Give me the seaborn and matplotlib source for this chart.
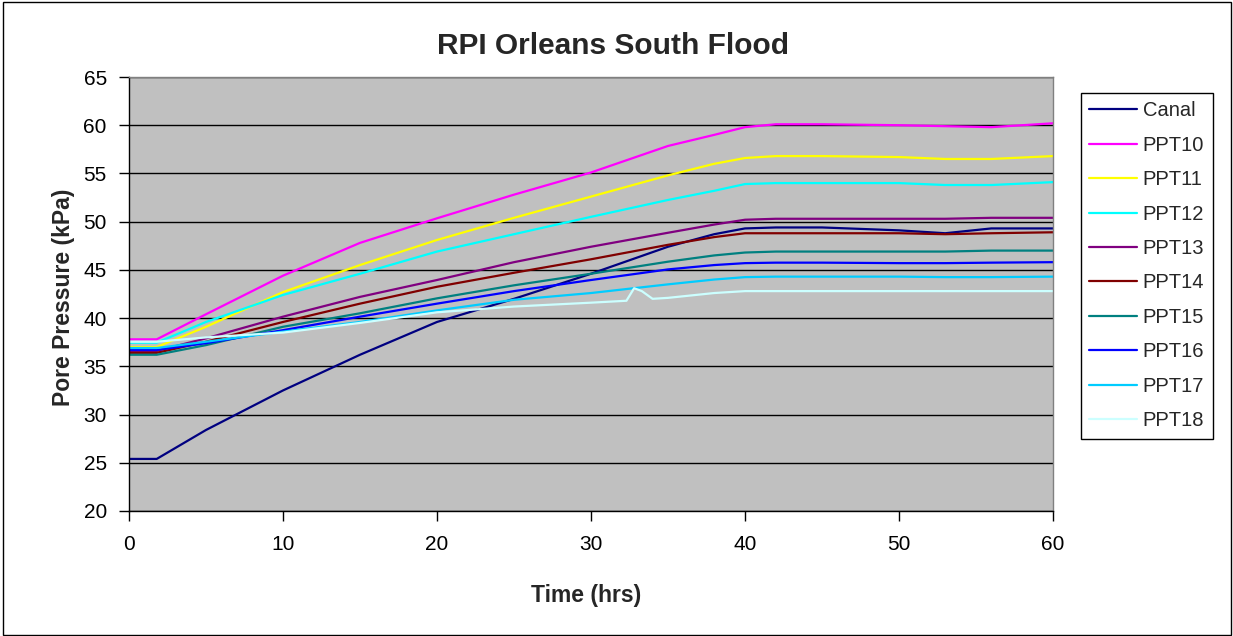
import pandas as pd
import seaborn as sns
import matplotlib.pyplot as plt
from matplotlib.patches import Rectangle

# ==================================================
# data (time in hrs, pressure in kPa)
# ==================================================

t_common = [0, 1.8, 5, 10, 15, 20, 25, 30, 35, 38, 40, 42, 45, 50, 53, 56, 60]

canal = [25.4, 25.4, 28.4, 32.5, 36.2, 39.6, 42.0, 44.6, 47.4, 48.7, 49.3, 49.4, 49.4, 49.1, 48.8, 49.3, 49.3]
ppt10 = [37.8, 37.8, 40.4, 44.4, 47.8, 50.35, 52.8, 55.1, 57.85, 59.0, 59.8, 60.1, 60.1, 60.0, 59.9, 59.8, 60.2]
ppt11 = [37.0, 37.0, 39.1, 42.7, 45.5, 48.1, 50.4, 52.6, 54.8, 56.0, 56.6, 56.8, 56.8, 56.7, 56.5, 56.5, 56.8]
ppt12 = [37.45, 37.45, 39.6, 42.4, 44.6, 46.9, 48.7, 50.5, 52.25, 53.2, 53.9, 54.0, 54.0, 54.0, 53.8, 53.8, 54.1]
ppt13 = [36.6, 36.6, 37.9, 40.15, 42.2, 43.95, 45.8, 47.4, 48.85, 49.7, 50.2, 50.3, 50.3, 50.3, 50.3, 50.4, 50.4]
ppt14 = [36.4, 36.4, 37.55, 39.6, 41.5, 43.25, 44.7, 46.1, 47.6, 48.4, 48.8, 48.8, 48.8, 48.8, 48.7, 48.8, 48.9]
ppt15 = [36.2, 36.2, 37.2, 39.1, 40.5, 42.05, 43.4, 44.6, 45.85, 46.5, 46.8, 46.9, 46.9, 46.9, 46.9, 47.0, 47.0]
ppt16 = [36.7, 36.7, 37.4, 38.75, 40.15, 41.5, 42.8, 43.95, 45.05, 45.5, 45.7, 45.75, 45.75, 45.7, 45.7, 45.75, 45.8]
ppt17 = [36.9, 36.9, 37.55, 38.6, 39.6, 40.8, 41.9, 42.6, 43.5, 44.0, 44.25, 44.3, 44.3, 44.3, 44.25, 44.25, 44.3]

t_ppt18 = [0, 1.8, 5, 10, 15, 20, 25, 30, 32.3, 32.8, 33.3, 34.0, 35, 38, 40, 45, 50, 55, 60]
ppt18 = [37.55, 37.55, 38.0, 38.5, 39.5, 40.6, 41.2, 41.6, 41.8, 43.1, 42.8, 42.0, 42.1, 42.6, 42.8, 42.8, 42.8, 42.8, 42.8]

series_names = ["Canal", "PPT10", "PPT11", "PPT12", "PPT13", "PPT14", "PPT15", "PPT16", "PPT17", "PPT18"]
series_values = [canal, ppt10, ppt11, ppt12, ppt13, ppt14, ppt15, ppt16, ppt17, ppt18]
series_times = [t_common] * 9 + [t_ppt18]

colors = ["#000080", "#FF00FF", "#FFFF00", "#00FFFF", "#800080",
          "#800000", "#008080", "#0000FF", "#00CCFF", "#CCFFFF"]

rows = []
for name, tt, vv in zip(series_names, series_times, series_values):
    for t, v in zip(tt, vv):
        rows.append({"time": t, "pressure": v, "series": name})
df = pd.DataFrame(rows)

# ==================================================
# style
# ==================================================

sns.set_theme(style="ticks")
plt.rcParams["font.family"] = ["Liberation Sans", "DejaVu Sans"]

fig = plt.figure(figsize=(12.33, 6.36), dpi=100)
ax = fig.add_axes([129 / 1233, 125 / 636, 924 / 1233, 434 / 636])
ax.set_facecolor("#C0C0C0")

sns.lineplot(
    data=df, x="time", y="pressure", hue="series",
    hue_order=series_names, palette=dict(zip(series_names, colors)),
    estimator=None, sort=False, linewidth=1.6, ax=ax
)

ax.set_xlim(0, 60)
ax.set_ylim(20, 65)
ax.set_xticks(range(0, 61, 10))
ax.set_yticks(range(20, 66, 5))
ax.yaxis.grid(True, color="black", linewidth=1)
ax.set_axisbelow(True)

for side in ["top", "right"]:
    ax.spines[side].set_visible(True)
    ax.spines[side].set_color("#808080")
for side in ["left", "bottom"]:
    ax.spines[side].set_color("black")
for sp in ax.spines.values():
    sp.set_linewidth(1)

ax.tick_params(axis="both", direction="out", length=7, width=1, color="black",
               labelsize=15, labelcolor="black")
ax.tick_params(axis="x", pad=10)
ax.tick_params(axis="y", pad=9)

ax.set_title("RPI Orleans South Flood", fontsize=21.5, fontweight="bold",
             x=0.524, y=1.071, va="center", pad=0)
ax.set_xlabel("Time (hrs)", fontsize=16.5, fontweight="bold")
ax.set_ylabel("Pore Pressure (kPa)", fontsize=16.5, fontweight="bold")
ax.xaxis.set_label_coords(0.495, -0.168)
ax.yaxis.set_label_coords(-0.0585, 0.493)

sns.move_legend(
    ax, loc="upper left", bbox_to_anchor=(1081 / 1233, 1 - 93 / 636),
    bbox_transform=fig.transFigure, title=None, frameon=True,
    fontsize=14.5, labelspacing=0.765, handlelength=2.35, handletextpad=0.3,
    borderpad=0.42, borderaxespad=0, fancybox=False, shadow=False
)
leg = ax.get_legend()
leg.get_frame().set_edgecolor("black")
leg.get_frame().set_linewidth(1)
leg.get_frame().set_facecolor("white")
leg.get_frame().set_alpha(1)

# outer chart border
fig.patches.append(Rectangle((3 / 1233, 1 / 636), 1228 / 1233, 633 / 636,
                             transform=fig.transFigure, fill=False,
                             edgecolor="black", linewidth=1))

fig.savefig("out.png", dpi=100, facecolor="white")
plt.close(fig)
